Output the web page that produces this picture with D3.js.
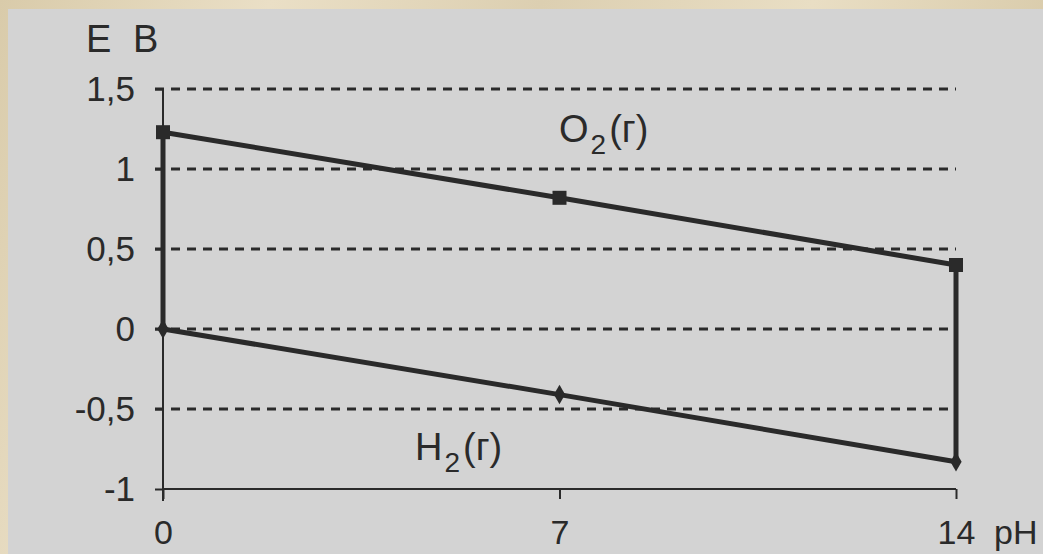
<!DOCTYPE html>
<html>
<head>
<meta charset="utf-8">
<script src="https://cdn.jsdelivr.net/npm/d3@7"></script>
<style>
  html, body { margin: 0; padding: 0; background: #e3d7bc; overflow: hidden; }
  svg { display: block; }
</style>
</head>
<body>
<div id="chart"></div>
<script>
// pH points and the two water boundaries (V)
var phValues = [0, 7, 14];
var o2Values = [1.23, 0.82, 0.40];
var h2Values = [0, -0.41, -0.83];
var yTicks = [-1, -0.5, 0, 0.5, 1, 1.5];
var xTicks = [0, 7, 14];

var width = 1043, height = 554,
    ink = "#2a2a2a",
    font = "'Liberation Sans', Arial, sans-serif";

var svg = d3.select("#chart").append("svg")
    .attr("width", width)
    .attr("height", height);

// parchment backdrop with a soft mottle
var grad = svg.append("defs").append("linearGradient")
    .attr("id", "parch").attr("x1", 0).attr("x2", 1).attr("y1", 0).attr("y2", 0.2);
[["0", "#d9cbaa"], ["0.25", "#eadfc6"], ["0.5", "#dccfb1"], ["0.75", "#e9dec4"], ["1", "#d8caa9"]]
    .forEach(function (s) { grad.append("stop").attr("offset", s[0]).attr("stop-color", s[1]); });
svg.append("rect").attr("width", width).attr("height", height).attr("fill", "url(#parch)");

// grey plot panel
svg.append("rect")
    .attr("x", 8).attr("y", 9)
    .attr("width", width - 8).attr("height", height - 9)
    .attr("fill", "#d3d3d3");

var x = d3.scaleLinear().domain([0, 14]).range([163, 956]),
    y = d3.scaleLinear().domain([-1, 1.5]).range([489, 89]);

function fmt(v) { return String(v).replace(".", ","); }

// dashed gridlines
svg.append("g").selectAll("line")
    .data(yTicks.filter(function (d) { return d > -1; }))
    .enter().append("line")
    .attr("x1", x(0) - 8).attr("x2", x(14))
    .attr("y1", function (d) { return y(d); })
    .attr("y2", function (d) { return y(d); })
    .attr("stroke", ink)
    .attr("stroke-width", 3)
    .attr("stroke-dasharray", "9,7");

// y axis
var yAxis = svg.append("g")
    .attr("transform", "translate(" + x(0) + ",0)")
    .call(d3.axisLeft(y).tickValues(yTicks).tickFormat(fmt).tickSize(8).tickPadding(20));
yAxis.select(".domain").attr("stroke", ink).attr("stroke-width", 2)
    .attr("d", "M0," + y(1.5) + "V" + (y(-1) + 12));
yAxis.selectAll(".tick line").attr("stroke", ink).attr("stroke-width", 2);
yAxis.selectAll("text")
    .attr("fill", ink)
    .style("font-family", font)
    .style("font-size", "35px");

// x axis
var xAxis = svg.append("g")
    .attr("transform", "translate(0," + y(-1) + ")")
    .call(d3.axisBottom(x).tickValues(xTicks).tickFormat(d3.format("d")).tickSize(10).tickPadding(0));
xAxis.select(".domain").attr("stroke", ink).attr("stroke-width", 2)
    .attr("d", "M" + x(0) + ",0H" + x(14));
xAxis.selectAll(".tick line").attr("stroke", ink).attr("stroke-width", 2);
xAxis.selectAll("text")
    .attr("fill", ink)
    .attr("y", 55)
    .attr("dy", 0)
    .style("font-family", font)
    .style("font-size", "34px");

// series lines
var line = d3.line()
    .x(function (d) { return x(d[0]); })
    .y(function (d) { return y(d[1]); });

var o2 = d3.zip(phValues, o2Values),
    h2 = d3.zip(phValues, h2Values);

svg.append("path").datum(o2).attr("d", line)
    .attr("fill", "none").attr("stroke", ink).attr("stroke-width", 5);
svg.append("path").datum(h2).attr("d", line)
    .attr("fill", "none").attr("stroke", ink).attr("stroke-width", 5);

// vertical bounds at pH 0 and pH 14
svg.append("g").selectAll("line")
    .data([0, phValues.length - 1])
    .enter().append("line")
    .attr("x1", function (i) { return x(phValues[i]); })
    .attr("x2", function (i) { return x(phValues[i]); })
    .attr("y1", function (i) { return y(o2Values[i]); })
    .attr("y2", function (i) { return y(h2Values[i]); })
    .attr("stroke", ink).attr("stroke-width", 5);

// markers: squares on O2, diamonds on H2
svg.append("g").selectAll("rect")
    .data(o2).enter().append("rect")
    .attr("x", function (d) { return x(d[0]) - 7; })
    .attr("y", function (d) { return y(d[1]) - 7; })
    .attr("width", 14).attr("height", 14)
    .attr("fill", ink);
svg.append("g").selectAll("path")
    .data(h2).enter().append("path")
    .attr("d", d3.symbol().type(d3.symbolDiamond).size(110))
    .attr("transform", function (d) { return "translate(" + x(d[0]) + "," + y(d[1]) + ")"; })
    .attr("fill", ink);

// labels
function label(tx, ty, main, sub, rest) {
    var t = svg.append("text")
        .attr("x", tx).attr("y", ty)
        .attr("fill", ink)
        .style("font-family", font)
        .style("font-size", "38px");
    t.append("tspan").text(main);
    if (sub) {
        t.append("tspan").attr("dx", 2).attr("dy", 12).style("font-size", "28px").text(sub);
        t.append("tspan").attr("dx", 3).attr("dy", -12).text(rest);
    }
    return t;
}
label(86, 52, "Е");
label(133, 52, "В");
label(559, 142, "O", "2", "(г)");
label(415, 460, "H", "2", "(г)");
svg.append("text")
    .attr("x", 994).attr("y", 544)
    .attr("fill", ink)
    .style("font-family", font)
    .style("font-size", "34px")
    .text("pH");
</script>
</body>
</html>
